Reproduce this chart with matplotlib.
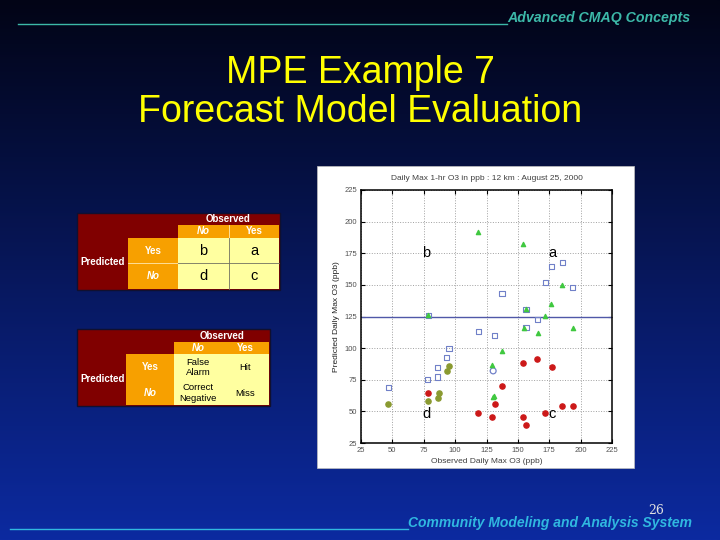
import numpy as np
import matplotlib.pyplot as plt
from matplotlib.patches import Rectangle

plt.rcParams['font.family'] = ['Liberation Sans', 'DejaVu Sans']

# scatter points, observed vs predicted daily max O3 (ppb)
green_obs = [118.3, 154.3, 185.0, 176.7, 156.5, 171.9, 194.0, 165.8, 154.6, 137.3, 129.3, 131.0, 130.0, 78.6]
green_pred = [191.8, 182.0, 150.0, 134.5, 130.8, 125.5, 115.8, 111.8, 116.0, 98.0, 87.0, 62.5, 61.0, 126.0]

blue_obs = [185.3, 177.0, 172.0, 193.8, 137.3, 156.5, 165.8, 118.6, 131.4, 95.1, 93.3, 86.0, 85.8, 78.3, 46.6, 78.6, 156.5]
blue_pred = [167.5, 164.8, 151.6, 148.0, 143.2, 116.3, 122.9, 112.9, 110.0, 99.7, 92.3, 84.6, 77.2, 75.1, 68.8, 126.0, 130.8]

circ_obs = [130.3]
circ_pred = [82.0]

red_obs = [165.5, 154.3, 177.0, 137.3, 78.3, 132.0, 185.0, 194.0, 118.3, 172.0, 129.3, 154.3, 156.5]
red_pred = [91.2, 88.6, 85.4, 69.9, 64.3, 55.6, 54.0, 54.6, 48.5, 48.8, 45.3, 45.3, 39.3]

olive_obs = [46.6, 78.0, 87.1, 86.0, 93.5, 95.1]
olive_pred = [55.9, 58.0, 64.6, 60.9, 81.7, 85.7]

threshold = 125
ticks = [25, 50, 75, 100, 125, 150, 175, 200, 225]

quad_labels = ['b', 'a', 'd', 'c']
quad_obs = [77, 177.5, 77.5, 177]
quad_pred = [175, 175, 48, 48]

# table texts
tbl1_cells = [['b', 'a'], ['d', 'c']]
tbl2_cells = [['False\nAlarm', 'Hit'], ['Correct\nNegative', 'Miss']]

W, H = 720, 540
fig = plt.figure(figsize=(7.2, 5.4), dpi=100)

# background in pixel coordinates
bg = fig.add_axes([0, 0, 1, 1])
bg.set_xlim(0, W)
bg.set_ylim(H, 0)
bg.axis('off')
top = np.array([2, 4, 22]) / 255
bot = np.array([12, 42, 160]) / 255
t = np.linspace(0, 1, 256)[:, None, None]
grad = top + (bot - top) * t
bg.imshow(grad, extent=[0, W, H, 0], aspect='auto', zorder=0)

# header / footer
bg.plot([18, 507], [24, 24], color='#3cb8a8', lw=1)
bg.text(507, 18, 'Advanced CMAQ Concepts', color='#3cb8a8', fontsize=10.2,
        style='italic', weight='bold', va='center', ha='left')
bg.plot([10, 408], [529, 529], color='#30b8e0', lw=1)
bg.text(408, 523, 'Community Modeling and Analysis System', color='#30b8e0',
        fontsize=10, style='italic', weight='bold', va='center', ha='left')
bg.text(656, 510, '26', color='#e0e0e0', fontsize=9, family='DejaVu Serif',
        va='center', ha='center')

# title
bg.text(360, 73, 'MPE Example 7', color='#ffff00', fontsize=27, ha='center', va='center')
bg.text(360, 112, 'Forecast Model Evaluation', color='#ffff00', fontsize=27, ha='center', va='center')

DRED = '#800000'
ORNG = '#f7a000'
YELL = '#ffffa0'


def cell(x0, y0, x1, y1, fc, ec='none', lw=0.6):
    bg.add_patch(Rectangle((x0, y0), x1 - x0, y1 - y0, facecolor=fc,
                           edgecolor=ec, lw=lw, zorder=2))


def draw_table(xs, ys, cells, big, fs):
    # xs: 5 col edges, ys: 5 row edges
    bg.add_patch(Rectangle((xs[0] - 1, ys[0] - 1), xs[4] - xs[0] + 2, ys[4] - ys[0] + 2,
                           facecolor=DRED, edgecolor='#101030', lw=1, zorder=1))
    cell(xs[2], ys[1], xs[4], ys[2], ORNG)
    cell(xs[1], ys[2], xs[2], ys[4], ORNG)
    cell(xs[2], ys[2], xs[4], ys[4], YELL)
    if big:
        bg.plot([xs[3], xs[3]], [ys[1], ys[2]], color='#ffe8b0', lw=0.6, zorder=3)
        bg.plot([xs[1], xs[2]], [ys[3], ys[3]], color='#ffe8b0', lw=0.6, zorder=3)
        bg.plot([xs[3], xs[3]], [ys[2], ys[4]], color='#707060', lw=0.6, zorder=3)
        bg.plot([xs[2], xs[4]], [ys[3], ys[3]], color='#707060', lw=0.6, zorder=3)
    kw = dict(color='white', weight='bold', fontsize=7, ha='center', va='center', zorder=4)
    bg.text((xs[2] + xs[4]) / 2, (ys[0] + ys[1]) / 2, 'Observed', **kw)
    bg.text((xs[2] + xs[3]) / 2, (ys[1] + ys[2]) / 2, 'No', style='italic', **kw)
    bg.text((xs[3] + xs[4]) / 2, (ys[1] + ys[2]) / 2, 'Yes', **kw)
    bg.text((xs[1] + xs[2]) / 2, (ys[2] + ys[3]) / 2, 'Yes', **kw)
    bg.text((xs[1] + xs[2]) / 2, (ys[3] + ys[4]) / 2, 'No', style='italic', **kw)
    kw['ha'] = 'left'
    bg.text(xs[0] + 2, ys[3] - 1, 'Predicted', **kw)
    for i in range(2):
        for j in range(2):
            bg.text((xs[2 + j] + xs[3 + j]) / 2, (ys[2 + i] + ys[3 + i]) / 2 + 0.5,
                    cells[i][j], color='black', fontsize=fs, ha='center', va='center',
                    linespacing=1.15, zorder=4)


draw_table([78, 128, 178, 229, 279], [214, 225, 238, 263, 289], tbl1_cells, True, 10.5)
draw_table([78, 126, 174, 222, 269], [330, 342, 354, 380, 405], tbl2_cells, False, 6.8)

# white picture box for the scatter plot
bg.add_patch(Rectangle((317, 166), 317, 302, facecolor='white', edgecolor='#c0c0c0', lw=0.5, zorder=2))

ax = fig.add_axes([361 / W, 1 - 443 / H, 251 / W, 253 / H])
ax.set_xlim(25, 225)
ax.set_ylim(25, 225)
ax.set_xticks(ticks)
ax.set_yticks(ticks)
ax.grid(True, linestyle=':', color='#a0a0a0', lw=0.7)
ax.set_axisbelow(True)
ax.tick_params(direction='in', length=3, width=0.8, labelsize=5.5, labelcolor='#505050',
               top=True, right=True, pad=3)
for s in ax.spines.values():
    s.set_linewidth(1.1)
ax.axhline(threshold, color='#5058a8', lw=1, zorder=1)

ax.scatter(blue_obs, blue_pred, marker='s', s=14, facecolors='none',
           edgecolors='#7080c8', linewidths=0.8, zorder=3)
ax.scatter(circ_obs, circ_pred, marker='o', s=18, facecolors='none',
           edgecolors='#7080c8', linewidths=0.9, zorder=3)
ax.scatter(red_obs, red_pred, marker='o', s=14, color='#cc1818', zorder=3)
ax.scatter(olive_obs, olive_pred, marker='o', s=14, color='#8a9a30', zorder=3)
ax.scatter(green_obs, green_pred, marker='^', s=9, color='#40c840', zorder=4)

for lab, x, y in zip(quad_labels, quad_obs, quad_pred):
    ax.text(x, y, lab, fontsize=10.5, ha='center', va='center', color='black', zorder=5)

ax.set_title('Daily Max 1-hr O3 in ppb : 12 km : August 25, 2000', fontsize=6,
             color='#404040', pad=7)
ax.set_xlabel('Observed Daily Max O3 (ppb)', fontsize=6, color='#404040', labelpad=3)
ax.set_ylabel('Predicted Daily Max O3 (ppb)', fontsize=6, color='#202020', labelpad=3)

plt.savefig('out.png', dpi=100)
